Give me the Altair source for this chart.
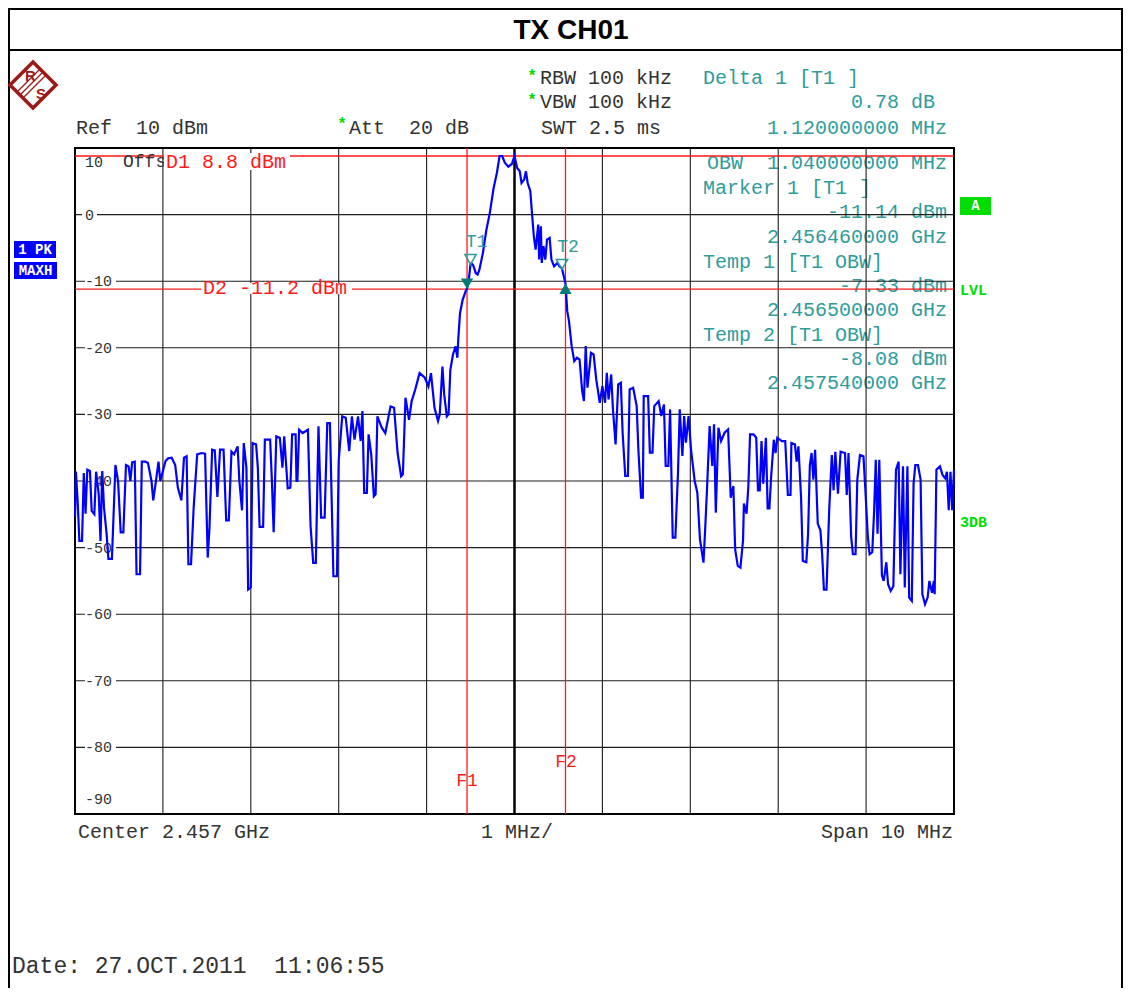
import altair as alt
import pandas as pd

# ---------------- data ----------------
freq_mhz = [
    -5.00, -4.99, -4.97, -4.95, -4.92, -4.90, -4.88, -4.86, -4.83, -4.81, -4.78, -4.76, -4.73, -4.71,
    -4.69, -4.67, -4.64, -4.62, -4.58, -4.54, -4.51, -4.48, -4.45, -4.42, -4.39, -4.37, -4.35, -4.32,
    -4.30, -4.26, -4.24, -4.20, -4.17, -4.13, -4.11, -4.08, -4.05, -4.03, -4.00, -3.97, -3.94, -3.90,
    -3.86, -3.83, -3.79, -3.76, -3.73, -3.71, -3.68, -3.65, -3.61, -3.56, -3.52, -3.49, -3.47, -3.44,
    -3.41, -3.38, -3.35, -3.31, -3.28, -3.25, -3.22, -3.19, -3.15, -3.13, -3.10, -3.08, -3.05, -3.03,
    -3.00, -2.98, -2.94, -2.92, -2.90, -2.86, -2.84, -2.78, -2.76, -2.74, -2.71, -2.67, -2.64, -2.62,
    -2.58, -2.55, -2.53, -2.49, -2.48, -2.47, -2.45, -2.41, -2.35, -2.32, -2.29, -2.26, -2.23, -2.20,
    -2.16, -2.13, -2.10, -2.06, -2.02, -2.00, -1.96, -1.92, -1.88, -1.85, -1.82, -1.78, -1.75, -1.73,
    -1.71, -1.68, -1.66, -1.63, -1.60, -1.58, -1.56, -1.51, -1.47, -1.41, -1.37, -1.33, -1.29, -1.27,
    -1.24, -1.20, -1.17, -1.13, -1.08, -1.02, -0.98, -0.95, -0.91, -0.87, -0.85, -0.82, -0.80, -0.77,
    -0.75, -0.73, -0.70, -0.67, -0.65, -0.64, -0.62, -0.59, -0.55, -0.54, -0.52, -0.50, -0.49, -0.47,
    -0.44, -0.42, -0.40, -0.36, -0.32, -0.28, -0.24, -0.20, -0.17, -0.14, -0.11, -0.07, -0.03, 0.00,
    0.03, 0.06, 0.08, 0.11, 0.13, 0.15, 0.18, 0.20, 0.22, 0.24, 0.27, 0.28, 0.30, 0.31,
    0.33, 0.35, 0.37, 0.40, 0.42, 0.45, 0.49, 0.51, 0.54, 0.58, 0.60, 0.62, 0.65, 0.68,
    0.71, 0.74, 0.77, 0.79, 0.81, 0.83, 0.87, 0.90, 0.93, 0.97, 1.00, 1.03, 1.05, 1.07,
    1.10, 1.12, 1.15, 1.18, 1.21, 1.23, 1.26, 1.29, 1.31, 1.35, 1.39, 1.41, 1.44, 1.46,
    1.47, 1.52, 1.54, 1.57, 1.59, 1.64, 1.67, 1.70, 1.72, 1.75, 1.77, 1.80, 1.83, 1.86,
    1.88, 1.91, 1.93, 1.95, 1.98, 2.01, 2.05, 2.08, 2.11, 2.15, 2.17, 2.19, 2.22, 2.25,
    2.27, 2.29, 2.32, 2.35, 2.39, 2.43, 2.46, 2.49, 2.51, 2.54, 2.57, 2.60, 2.61, 2.64,
    2.66, 2.68, 2.72, 2.75, 2.77, 2.79, 2.81, 2.83, 2.86, 2.88, 2.90, 2.92, 2.95, 2.97,
    2.99, 3.04, 3.08, 3.11, 3.14, 3.15, 3.19, 3.21, 3.23, 3.26, 3.28, 3.32, 3.34, 3.36,
    3.38, 3.40, 3.42, 3.45, 3.48, 3.50, 3.52, 3.55, 3.58, 3.61, 3.63, 3.65, 3.68, 3.71,
    3.76, 3.78, 3.80, 3.83, 3.85, 3.88, 3.90, 3.93, 3.97, 3.99, 4.02, 4.04, 4.07, 4.09,
    4.11, 4.13, 4.15, 4.18, 4.20, 4.23, 4.25, 4.28, 4.31, 4.34, 4.37, 4.39, 4.42, 4.44,
    4.47, 4.49, 4.52, 4.54, 4.56, 4.59, 4.62, 4.64, 4.67, 4.70, 4.72, 4.75, 4.77, 4.78,
    4.80, 4.84, 4.87, 4.90, 4.92, 4.94, 4.96, 4.98, 5.00,
]
level_dbm = [
    -45.4, -38.6, -43.0, -49.0, -49.0, -38.8, -44.9, -38.3, -38.5, -44.5, -45.0, -38.6, -42.0, -49.0,
    -38.5, -44.0, -48.0, -51.7, -51.7, -37.6, -40.0, -47.7, -47.7, -37.6, -37.8, -40.0, -37.2, -37.1,
    -54.0, -54.0, -37.1, -37.1, -37.3, -40.0, -42.9, -40.1, -37.1, -40.0, -38.5, -37.0, -36.6, -36.5,
    -37.6, -41.0, -42.9, -36.5, -36.3, -52.5, -52.5, -44.0, -36.0, -35.8, -35.9, -51.5, -47.0, -35.3,
    -35.4, -42.4, -35.3, -35.3, -45.9, -45.9, -35.6, -36.0, -34.8, -40.0, -44.4, -34.3, -38.0, -56.3,
    -56.0, -34.3, -34.5, -38.0, -46.9, -46.9, -33.8, -33.8, -40.0, -47.7, -33.3, -33.5, -38.0, -33.3,
    -41.1, -41.0, -33.0, -33.0, -40.0, -40.0, -32.3, -32.8, -32.3, -46.8, -52.3, -52.3, -31.8, -45.5,
    -45.5, -31.3, -31.3, -54.3, -54.3, -37.0, -30.3, -30.5, -35.5, -30.3, -33.8, -30.3, -34.0, -29.5,
    -41.8, -41.8, -33.0, -36.0, -42.3, -42.0, -30.3, -32.0, -32.8, -28.8, -29.0, -35.8, -39.3, -39.0,
    -27.5, -30.8, -28.0, -26.3, -23.8, -24.5, -25.8, -23.8, -29.0, -31.0, -30.0, -22.8, -27.0, -30.3,
    -30.0, -23.3, -21.0, -19.8, -21.5, -18.8, -14.8, -12.8, -11.3, -11.14, -9.8, -7.4, -7.3, -7.6,
    -8.8, -9.0, -8.3, -5.8, -2.3, 0.3, 3.8, 6.3, 8.8, 8.8, 7.8, 7.2, 7.6, 8.8,
    7.0, 6.5, 4.75, 5.25, 6.5, 4.75, 3.5, 0.0, -3.25, -5.25, -1.5, -6.75, -1.75, -7.25,
    -4.75, -6.75, -3.75, -3.5, -6.75, -7.75, -7.25, -7.75, -8.08, -10.36, -14.5, -16.0, -19.75, -22.0,
    -21.5, -21.75, -26.5, -28.0, -19.75, -26.0, -20.75, -21.0, -24.75, -28.25, -25.75, -28.25, -23.75, -27.75,
    -24.0, -29.25, -34.5, -25.5, -25.25, -32.75, -39.25, -39.25, -26.25, -26.0, -28.75, -35.5, -42.5, -42.5,
    -27.25, -27.25, -35.75, -35.75, -28.75, -28.0, -30.25, -28.5, -37.75, -37.75, -29.25, -48.5, -48.5, -38.75,
    -29.25, -36.25, -30.25, -34.25, -30.25, -35.5, -40.0, -41.75, -48.75, -52.25, -47.0, -41.25, -31.75, -37.75,
    -31.5, -44.75, -32.0, -34.0, -32.75, -32.25, -42.5, -40.75, -50.25, -52.75, -53.0, -48.9, -43.4, -44.9,
    -40.9, -33.0, -33.0, -33.5, -41.4, -41.4, -34.0, -40.4, -33.5, -44.1, -44.1, -39.3, -33.8, -35.8,
    -33.5, -34.0, -34.0, -42.1, -42.1, -34.3, -34.5, -37.1, -34.8, -42.4, -52.0, -52.2, -47.9, -37.6,
    -35.8, -39.8, -35.3, -46.4, -47.4, -51.0, -56.3, -56.3, -44.4, -36.1, -41.4, -35.6, -41.9, -35.6,
    -35.8, -42.1, -35.8, -48.4, -51.0, -51.0, -39.8, -36.1, -36.3, -40.9, -48.4, -51.0, -50.7, -44.9,
    -36.8, -47.9, -36.8, -54.2, -55.0, -52.2, -55.5, -56.5, -55.8, -38.3, -37.1, -54.0, -37.8, -56.0,
    -37.8, -57.5, -58.0, -40.4, -37.6, -37.6, -39.8, -57.0, -58.5, -57.5, -55.0, -56.8, -55.0, -57.0,
    -38.3, -37.8, -39.1, -39.6, -38.6, -44.4, -38.6, -44.4, -38.3,
]

grid_freq_mhz = [-4, -3, -2, -1, 1, 2, 3, 4]
grid_level_dbm = [0, -10, -20, -30, -40, -50, -60, -70, -80]
grid_labels = ["0", "-10", "-20", "-30", "-40", "-50", "-60", "-70", "-80"]
top_label, bottom_label = "10", "-90"
display_line_dbm = [8.8, -11.2]          # D1, D2
freq_line_mhz = [-0.54, 0.58]            # F1, F2
marker_freq, marker_level = [-0.54], [-11.14]
delta_freq, delta_level = [0.58], [-10.36]
temp_freq, temp_level, temp_names = [-0.50, 0.54], [-7.33, -8.08], ["T1", "T2"]

# ---------------- layout helpers ----------------
OX, OY = 75, 148          # plot origin in page pixels
W, H = 879, 666
MONO = "Liberation Mono"
SANS = "Liberation Sans"
GRAY = "#333333"
TEAL = "#2f9c9a"
RED = "#ff1a1a"
GREEN = "#00dd00"

xs = alt.Scale(domain=[-5, 5], nice=False, zero=False)
ys = alt.Scale(domain=[-90, 10], nice=False, zero=False)
one = pd.DataFrame({"k": [0]})
base = alt.Chart(one)


def nb(s):
    return s.replace(" ", "\u00a0")


def txt(s, X, Y, color=GRAY, size=20, align="left", weight="normal", font=MONO):
    return base.mark_text(text=nb(s), align=align, baseline="middle", fontSize=size,
                          font=font, color=color, fontWeight=weight).encode(
        x=alt.value(X - OX), y=alt.value(Y - OY))


def box(X1, Y1, X2, Y2, fill):
    return base.mark_rect(color=fill).encode(
        x=alt.value(X1 - OX), x2=alt.value(X2 - OX), y=alt.value(Y1 - OY), y2=alt.value(Y2 - OY))


def seg(X1, Y1, X2, Y2, color="black", w=2):
    return base.mark_rule(color=color, strokeWidth=w, strokeCap="butt").encode(
        x=alt.value(X1 - OX), x2=alt.value(X2 - OX), y=alt.value(Y1 - OY), y2=alt.value(Y2 - OY))


layers = []

# outer frame / title bar
layers += [
    seg(9, 8, 9, 1003), seg(8, 9, 1123, 9), seg(1122, 8, 1122, 1003), seg(8, 50, 1123, 50),
    txt("TX CH01", 571, 31, color="black", size=28, align="center", weight="bold", font=SANS),
]

# logo
LR = "#9c1a16"
layers += [
    base.mark_point(shape="diamond", size=2116, filled=False, color=LR, strokeWidth=3.5, opacity=1).encode(
        x=alt.value(33 - OX), y=alt.value(85 - OY)),
    seg(21, 94, 43, 72, LR, 1.3), seg(24, 97, 46, 75, LR, 1.3), seg(18, 91, 40, 69, LR, 1.3),
    txt("R", 25, 76, color=LR, size=15, font=SANS, weight="bold"),
    txt("S", 36, 94, color=LR, size=15, font=SANS, weight="bold"),
]

# header texts
layers += [
    txt("Ref  10 dBm", 76, 128),
    txt("*", 342, 124, color=GREEN, size=16, align="center", weight="bold"),
    txt("Att  20 dB", 349, 128),
    txt("*", 532, 76, color=GREEN, size=16, align="center", weight="bold"),
    txt("RBW 100 kHz", 540, 78),
    txt("*", 532, 100, color=GREEN, size=16, align="center", weight="bold"),
    txt("VBW 100 kHz", 540, 102),
    txt("SWT 2.5 ms", 541, 128),
    txt("Delta 1 [T1 ]", 703, 78, color=TEAL),
    txt("0.78 dB", 935, 102, color=TEAL, align="right"),
    txt("1.120000000 MHz", 947, 128, color=TEAL, align="right"),
]

# marker panel inside the grid (under grid lines)
layers += [
    txt("OBW  1.040000000 MHz", 947, 163, color=TEAL, align="right"),
    txt("Marker 1 [T1 ]", 703, 188, color=TEAL),
    txt("-11.14 dBm", 947, 212, color=TEAL, align="right"),
    txt("2.456460000 GHz", 947, 237, color=TEAL, align="right"),
    txt("Temp 1 [T1 OBW]", 703, 262, color=TEAL),
    txt("-7.33 dBm", 947, 286, color=TEAL, align="right"),
    txt("2.456500000 GHz", 947, 310, color=TEAL, align="right"),
    txt("Temp 2 [T1 OBW]", 703, 335, color=TEAL),
    txt("-8.08 dBm", 947, 359, color=TEAL, align="right"),
    txt("2.457540000 GHz", 947, 383, color=TEAL, align="right"),
]

# grid
vgrid = alt.Chart(pd.DataFrame({"f": grid_freq_mhz})).mark_rule(color="#1e1e1e", strokeWidth=1.1).encode(
    x=alt.X("f:Q", scale=xs, axis=None))
hgrid = alt.Chart(pd.DataFrame({"l": grid_level_dbm})).mark_rule(color="#1e1e1e", strokeWidth=1.1).encode(
    y=alt.Y("l:Q", scale=ys, axis=None))
center = alt.Chart(pd.DataFrame({"f": [0]})).mark_rule(color="black", strokeWidth=2.5).encode(
    x=alt.X("f:Q", scale=xs, axis=None))
dlines = alt.Chart(pd.DataFrame({"l": display_line_dbm})).mark_rule(color=RED, strokeWidth=1.3).encode(
    y=alt.Y("l:Q", scale=ys, axis=None))
flines = alt.Chart(pd.DataFrame({"f": freq_line_mhz})).mark_rule(color=RED, strokeWidth=1.3).encode(
    x=alt.X("f:Q", scale=xs, axis=None))
layers += [vgrid, hgrid, center, dlines, flines]

# y tick labels with white gaps
lab_df = pd.DataFrame({"l": grid_level_dbm, "t": grid_labels})
layers += [
    alt.Chart(lab_df.iloc[:1]).mark_rule(color="white", strokeWidth=13, strokeCap="butt").encode(
        y=alt.Y("l:Q", scale=ys, axis=None), x=alt.value(82 - OX), x2=alt.value(97 - OX)),
    alt.Chart(lab_df.iloc[1:]).mark_rule(color="white", strokeWidth=13, strokeCap="butt").encode(
        y=alt.Y("l:Q", scale=ys, axis=None), x=alt.value(85 - OX), x2=alt.value(116 - OX)),
    alt.Chart(lab_df).mark_text(align="left", baseline="middle", fontSize=15, font=MONO, color=GRAY).encode(
        y=alt.Y("l:Q", scale=ys, axis=None), x=alt.value(85 - OX), text="t:N"),
    txt(top_label, 85, 162, size=15),
    txt(bottom_label, 85, 799, size=15),
    txt("Offs", 123, 162, size=18),
    box(164, 153, 290, 170, "white"),
    txt("D1 8.8 dBm", 166, 162, color=RED),
    box(201, 283, 352, 294, "white"),
    txt("D2 -11.2 dBm", 203, 288, color=RED),
    txt("F1", 467, 781, color=RED, size=18, align="center"),
    txt("F2", 566, 762, color=RED, size=18, align="center"),
]

# trace
trace = alt.Chart(pd.DataFrame({"f": freq_mhz, "l": level_dbm})).mark_line(
    color="#0000ff", strokeWidth=2.2, interpolate="linear").encode(
    x=alt.X("f:Q", scale=xs, axis=None), y=alt.Y("l:Q", scale=ys, axis=None))
layers.append(trace)

# markers
MK = "#007b78"
mdf = pd.DataFrame({"f": marker_freq, "l": marker_level})
ddf = pd.DataFrame({"f": delta_freq, "l": delta_level})
tdf = pd.DataFrame({"f": temp_freq, "l": temp_level, "n": temp_names})
enc = dict(x=alt.X("f:Q", scale=xs, axis=None), y=alt.Y("l:Q", scale=ys, axis=None))
layers += [
    alt.Chart(mdf).mark_point(shape="triangle-down", size=150, filled=True, color=MK, opacity=1,
                              yOffset=-5).encode(**enc),
    alt.Chart(ddf).mark_point(shape="triangle-up", size=150, filled=True, color=MK, opacity=1,
                              yOffset=5).encode(**enc),
    alt.Chart(tdf).mark_point(shape="triangle-down", size=130, filled=False, color=TEAL, strokeWidth=1.5,
                              opacity=1, yOffset=-4).encode(**enc),
    alt.Chart(tdf).mark_text(fontSize=18, font=MONO, color=TEAL, baseline="middle", align="center",
                             yOffset=-21, dx=6).encode(text="n:N", **enc),
]

# side badges
layers += [
    box(14, 241, 56, 258, "#0000ff"), txt("1 PK", 35, 250, color="white", size=14, align="center", weight="bold"),
    box(14, 262, 57, 279, "#0000ff"), txt("MAXH", 35.5, 271, color="white", size=14, align="center", weight="bold"),
    box(960, 197, 991, 215, GREEN), txt("A", 975.5, 206, color="white", size=14, align="center", weight="bold"),
    txt("LVL", 960, 290, color=GREEN, size=15, weight="bold"),
    txt("3DB", 960, 522, color=GREEN, size=15, weight="bold"),
]

# bottom texts
layers += [
    txt("Center 2.457 GHz", 78, 832),
    txt("1 MHz/", 481, 832),
    txt("Span 10 MHz", 953, 832, align="right"),
    txt("Date: 27.OCT.2011  11:06:55", 12, 966, size=23),
]

chart = alt.layer(*layers).properties(
    width=W, height=H,
    padding={"left": 67, "top": 140, "right": 169, "bottom": 174},
    autosize=alt.AutoSizeParams(type="none"),
    background="white",
).configure_view(stroke="black", strokeWidth=2)

chart.save("out.html", embed_options={"renderer": "svg", "actions": False})
